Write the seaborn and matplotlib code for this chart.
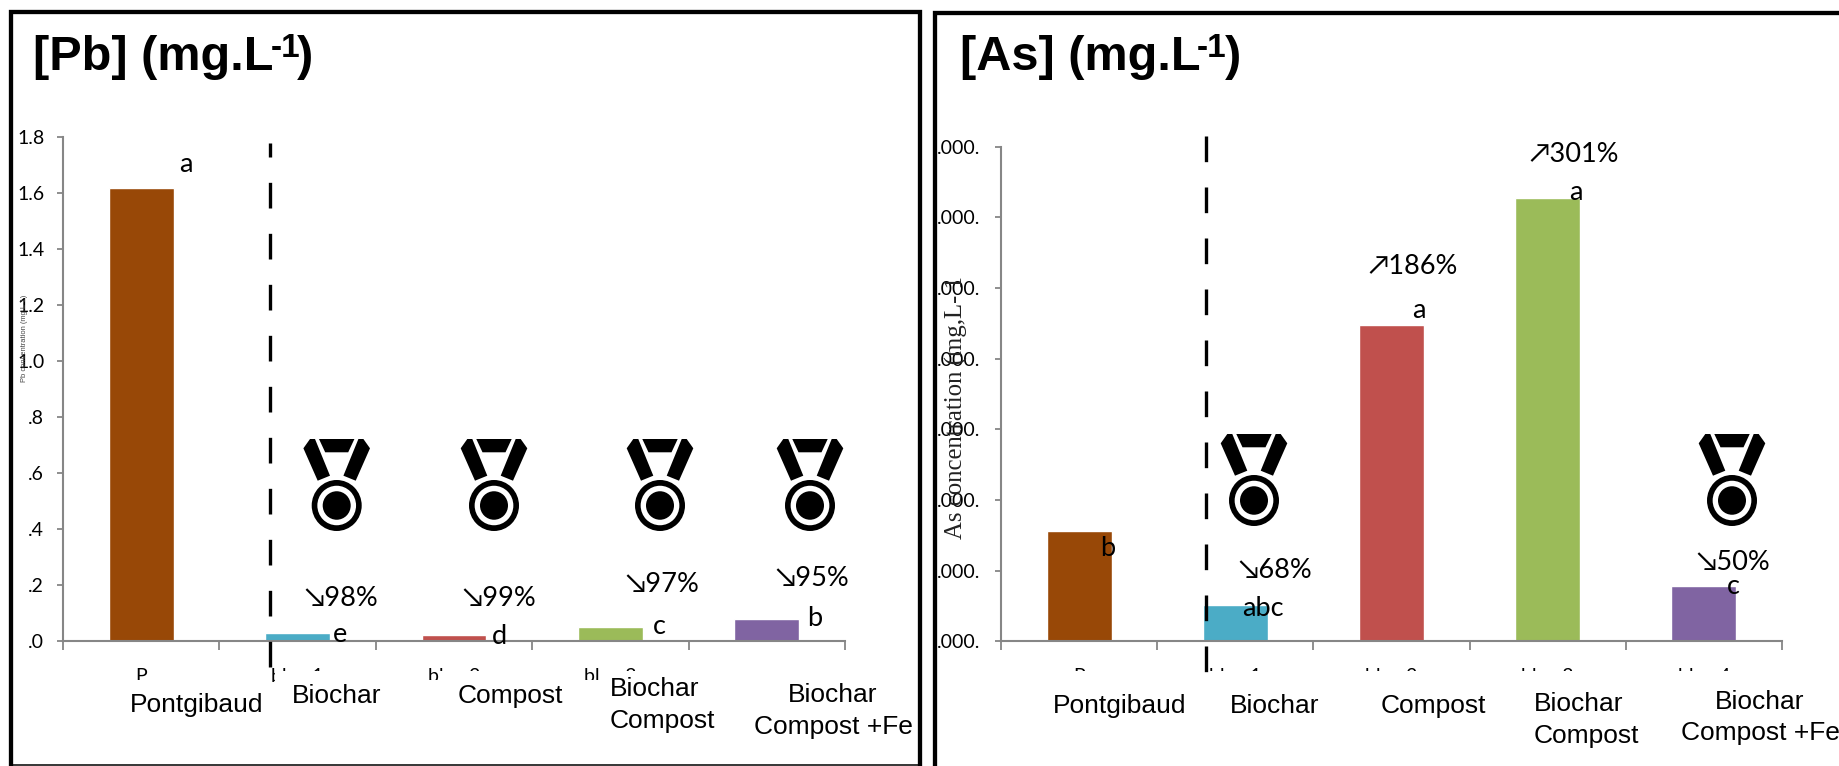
import matplotlib
matplotlib.use("Agg")
import matplotlib.pyplot as plt
import pandas as pd
import seaborn as sns
from matplotlib.patches import Ellipse, Polygon, Rectangle
from matplotlib.ticker import FixedLocator

W, H = 1839, 766

HIDDEN_TICKS_PB = ["P", "bloc 1", "bloc 2", "bloc 3", "bloc 4"]
HIDDEN_TICKS_AS = ["P", "bloc 1", "bloc 2", "bloc 3", "bloc 4"]
BAR_COLORS = ["#984807", "#4BACC6", "#C0504D", "#9BBB59", "#8064A2"]

PB_VALUES = [1.618, 0.026, 0.019, 0.048, 0.076]
AS_VALUES = [1.565, 0.51, 4.476, 6.27, 0.783]

PB_YTICKS = [0.0, 0.2, 0.4, 0.6, 0.8, 1.0, 1.2, 1.4, 1.6, 1.8]
PB_YLABELS = [".0", ".2", ".4", ".6", ".8", "1.0", "1.2", "1.4", "1.6", "1.8"]
AS_YTICKS = [0, 1, 2, 3, 4, 5, 6, 7]
AS_YLABELS = [".000."] * 8

GRAY = "#868686"
BODY = ["Lato", "DejaVu Sans"]
SANS = "Liberation Sans"

sns.set_theme(style="white")
plt.rcParams["font.family"] = BODY
plt.rcParams["text.color"] = "black"

fig = plt.figure(figsize=(W / 100, H / 100), dpi=100)


def axes_from_px(x0, x1, y0, y1):
    return fig.add_axes([x0 / W, 1 - y1 / H, (x1 - x0) / W, (y1 - y0) / H])


def draw_panel(ax, ticks, values, yticks, ylabels, ymax, pad):
    df = pd.DataFrame({"cat": [str(i) for i in range(len(ticks))], "val": values})
    sns.barplot(data=df, x="cat", y="val", hue="cat", palette=BAR_COLORS, width=0.415,
                legend=False, ax=ax, saturation=1)
    ax.set_xlim(-0.5, 4.5)
    ax.set_ylim(0, ymax)
    ax.set_xlabel("")
    ax.set_ylabel("")
    ax.set_xticks(range(5))
    ax.set_xticklabels(ticks)
    ax.xaxis.set_minor_locator(FixedLocator([i - 0.5 for i in range(6)]))
    ax.tick_params(axis="x", which="major", length=0, pad=19.5, labelsize=14, labelcolor="black")
    ax.tick_params(axis="x", which="minor", length=6.5, width=1.3, color=GRAY, bottom=True)
    ax.set_yticks(yticks)
    ax.set_yticklabels(ylabels)
    ax.tick_params(axis="y", length=4.3, width=1.3, color=GRAY, pad=pad, labelsize=14,
                   labelcolor="black", left=True)
    sns.despine(ax=ax)
    for side in ["left", "bottom"]:
        ax.spines[side].set_color(GRAY)
        ax.spines[side].set_linewidth(1.5)


def draw_medal(ov, cx, top):
    # shape traced from the icon, in pixels around its centre line
    trap = [(-17.7, 0), (17.7, 0), (11.5, 13.3), (-11.5, 13.3)]
    left = [(-26.7, 0), (-21.7, 0), (-6.7, 36.7), (-19, 41.7), (-33.3, 9.3)]
    right = [(-x, y) for x, y in left]
    for pts in (trap, left, right):
        ov.add_patch(Polygon([(cx + x, top + y) for x, y in pts], closed=True, fc="black", ec="none", zorder=6))
    cy = top + 66.5
    ov.add_patch(Ellipse((cx, cy), 50, 51, fc="black", ec="none", zorder=6))
    ov.add_patch(Ellipse((cx, cy), 38.7, 39.5, fc="white", ec="none", zorder=6))
    ov.add_patch(Ellipse((cx, cy), 28, 28.5, fc="black", ec="none", zorder=6))


ax_pb = axes_from_px(63, 845, 137, 640.7)
ax_as = axes_from_px(1001, 1782, 146.7, 641.3)
draw_panel(ax_pb, HIDDEN_TICKS_PB, PB_VALUES, PB_YTICKS, PB_YLABELS, 1.8, 9.2)
draw_panel(ax_as, HIDDEN_TICKS_AS, AS_VALUES, AS_YTICKS, AS_YLABELS, 7, 10.6)

# overlay in picture pixels for everything pasted on top of the two charts
ov = fig.add_axes([0, 0, 1, 1], zorder=5)
ov.set_xlim(0, W)
ov.set_ylim(H, 0)
ov.axis("off")
ov.patch.set_alpha(0)

# white boxes hiding the original tick labels
for x0, x1, y0 in [(100, 265, 680), (275, 418, 671), (418, 440, 680), (440, 578, 671),
                   (578, 600, 680), (600, 917, 671), (680, 917, 660), (1010, 1838, 671)]:
    ov.add_patch(Rectangle((x0, y0), x1 - x0, 764 - y0, fc="white", ec="none", zorder=1))

# panel frames
ov.plot([11, 11, 920, 920], [766, 11.5, 11.5, 766], color="black", lw=3.1, solid_joinstyle="miter", zorder=2)
ov.plot([11, 920], [765, 765], color="black", lw=1.1, zorder=2)
ov.plot([935.5, 935.5, W], [766, 13, 13], color="black", lw=3.1, solid_joinstyle="miter", zorder=2)

# dashed separators
ov.plot([270, 270], [143, 677], color="black", lw=2.4, ls=(3.5, (7.7, 7.6)), dash_capstyle="butt", zorder=3)
ov.plot([1205.7, 1205.7], [136, 673], color="black", lw=2.4, ls=(0, (7.7, 7.6)), dash_capstyle="butt", zorder=3)

# titles with the raised exponent
for x, name, sup_x, par_x in [(33, "[Pb] (mg.L", 271, 297), (960, "[As] (mg.L", 1197, 1225)]:
    ov.text(x, 70, name, family=SANS, weight="bold", fontsize=35, va="baseline", ha="left")
    ov.text(sup_x, 57, "-1", family=SANS, weight="bold", fontsize=24, va="baseline", ha="left")
    ov.text(par_x, 70, ")", family=SANS, weight="bold", fontsize=35, va="baseline", ha="left")

# axis titles
ov.text(25, 338, "Pb concentration (mg.L-1)", family=SANS, fontsize=5.4, rotation=90, color="#444444",
        ha="center", va="center")
ov.text(956, 408, "As concentration (mg,L- 1", family="Liberation Serif", fontsize=17.8, rotation=90,
        color="#222222", ha="center", va="center")

# significance letters
for x, y, s in [(186, 164, "a"), (340, 635, "e"), (499, 637, "d"), (659, 627, "c"), (814.5, 619, "b"),
                (1107.6, 548, "b"), (1263, 609, "abc"), (1419, 310, "a"), (1576, 193, "a"), (1733, 587, "c")]:
    ov.text(x, y, s, fontsize=19.5, ha="center", va="center", zorder=7)

# percent changes
for x, y, s in [(341, 598, "↘98%"), (499, 598, "↘99%"), (662, 584, "↘97%"), (812.5, 579, "↘95%"),
                (1275, 571, "↘68%"), (1733, 562, "↘50%"), (1413, 267, "↗186%"), (1574.5, 154, "↗301%")]:
    ov.text(x, y, s, fontsize=19.5, ha="center", va="center", zorder=7)

# treatment names
for x, y, s, ha in [(197, 705, "Pontgibaud", "center"), (337, 696, "Biochar", "center"), (510, 696, "Compost", "center"),
                    (610, 705, "Biochar\nCompost", "left"), (833, 711, "Biochar\nCompost +Fe", "center"),
                    (1119.6, 706, "Pontgibaud", "center"), (1275, 706, "Biochar", "center"), (1433, 706, "Compost", "center"),
                    (1534, 720, "Biochar\nCompost", "left"), (1760, 717.5, "Biochar\nCompost +Fe", "center")]:
    ov.text(x, y, s, family=SANS, fontsize=19, ha=ha, va="center", multialignment="center" if ha == "center" else "left",
            linespacing=1.4, zorder=7, clip_on=False)

for cx, top in [(336.7, 439), (494, 439), (660, 439), (810, 439), (1254, 434), (1732, 434)]:
    draw_medal(ov, cx, top)

fig.savefig("out.png", dpi=100, facecolor="white")
